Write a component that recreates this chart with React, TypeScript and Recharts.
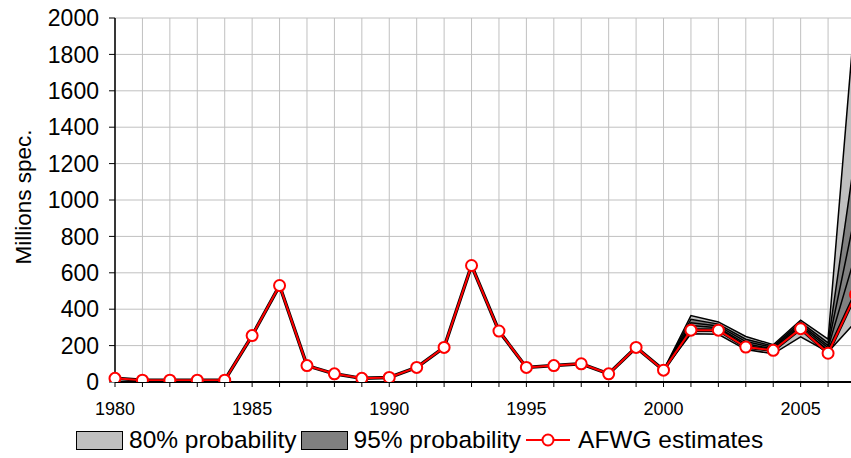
import React from 'react';
import { ComposedChart, Line, Area, XAxis, YAxis, CartesianGrid, Legend } from 'recharts';

const years = [
  1980, 1981, 1982, 1983, 1984, 1985, 1986, 1987, 1988, 1989,
  1990, 1991, 1992, 1993, 1994, 1995, 1996, 1997, 1998, 1999,
  2000, 2001, 2002, 2003, 2004, 2005, 2006, 2007,
];

// AFWG stock estimates, millions of specimens
const afwg = [
  20, 10, 10, 10, 10, 255, 530, 90, 45, 20,
  25, 80, 190, 640, 280, 80, 90, 100, 45, 190,
  65, 285, 285, 192, 174, 293, 158, 480,
];

// probability fan, 2000 onwards
const bandYears = [2000, 2001, 2002, 2003, 2004, 2005, 2006, 2007];
const lower95 = [65, 265, 262, 178, 155, 248, 165, 330];
const lower80 = [65, 290, 288, 198, 175, 295, 175, 500];
const lowerMid = [65, 310, 298, 210, 182, 308, 188, 700];
const upperMid = [65, 325, 308, 222, 190, 318, 200, 930];
const upper80 = [65, 345, 318, 235, 197, 328, 215, 1260];
const upper95 = [65, 365, 330, 250, 205, 340, 235, 2050];

const yTicks = [0, 200, 400, 600, 800, 1000, 1200, 1400, 1600, 1800, 2000];

const FONT = '"Liberation Sans", Arial, sans-serif';
const LIGHT = '#c0c0c0';
const DARK = '#808080';

const data = years.map((year, i) => {
  const k = bandYears.indexOf(year);
  const pick = (arr: number[]) => (k >= 0 ? arr[k] : null);
  return {
    year,
    afwg: afwg[i],
    lower95: pick(lower95),
    lower80: pick(lower80),
    lowerMid: pick(lowerMid),
    upperMid: pick(upperMid),
    upper80: pick(upper80),
    upper95: pick(upper95),
  };
});

type Row = (typeof data)[number];
const range = (lo: keyof Row, hi: keyof Row) => (d: Row) =>
  d[lo] == null ? null : [d[lo] as number, d[hi] as number];

function YLabel() {
  return (
    <text
      x={31}
      y={197}
      transform="rotate(-90 31 197)"
      textAnchor="middle"
      fontFamily={FONT}
      fontSize={22.5}
      fill="#000"
    >
      Millions spec.
    </text>
  );
}

function Swatch({ color }: { color: string }) {
  return (
    <span
      style={{
        display: 'inline-block',
        width: 45,
        height: 17,
        background: color,
        border: '1px solid #000',
        marginRight: 6,
      }}
    />
  );
}

function ChartLegend() {
  return (
    <div
      style={{
        display: 'flex',
        alignItems: 'center',
        height: 40,
        paddingTop: 4,
        boxSizing: 'border-box',
        paddingLeft: 76,
        fontFamily: FONT,
        fontSize: 24.5,
        color: '#000',
        whiteSpace: 'nowrap',
      }}
    >
      <Swatch color={LIGHT} />
      <span style={{ marginRight: 4 }}>80% probability</span>
      <Swatch color={DARK} />
      <span style={{ marginRight: 5 }}>95% probability</span>
      <svg width={44} height={20} style={{ marginRight: 8 }}>
        <line x1={0} y1={10} x2={44} y2={10} stroke="#ff0000" strokeWidth={2} />
        <circle cx={22} cy={10} r={5.5} fill="#fff" stroke="#ff0000" strokeWidth={2} />
      </svg>
      <span>AFWG estimates</span>
    </div>
  );
}

export default function App() {
  return (
    <div style={{ position: 'fixed', left: 0, top: 0, width: 851, height: 458, overflow: 'hidden', background: '#fff' }}>
      <ComposedChart width={870} height={458} data={data} margin={{ top: 18, right: 14.5, left: 0, bottom: 0 }}>
        <CartesianGrid stroke={LIGHT} strokeWidth={1} />
        <XAxis
          dataKey="year"
          type="number"
          domain={[1980, 2007]}
          ticks={years}
          interval={0}
          height={36}
          tickSize={5}
          tickMargin={15}
          tickFormatter={(v: number) => (v % 5 === 0 ? String(v) : '')}
          tick={{ fontFamily: FONT, fontSize: 18, fill: '#000' }}
          axisLine={{ stroke: '#000', strokeWidth: 2 }}
          tickLine={{ stroke: '#000' }}
        />
        <YAxis
          type="number"
          domain={[0, 2000]}
          allowDataOverflow
          ticks={yTicks}
          interval={0}
          width={115}
          tickSize={6}
          tickMargin={10}
          tick={{ fontFamily: FONT, fontSize: 23, fill: '#000' }}
          axisLine={{ stroke: '#000', strokeWidth: 1.5 }}
          tickLine={{ stroke: '#000' }}
          label={<YLabel />}
        />
        <Legend verticalAlign="bottom" content={<ChartLegend />} wrapperStyle={{ left: 0, width: 851, height: 40 }} />

        <Area type="linear" dataKey={range('lower95', 'lower80')} fill={LIGHT} fillOpacity={1} stroke="none" isAnimationActive={false} legendType="none" />
        <Area type="linear" dataKey={range('lower80', 'upper80')} fill={DARK} fillOpacity={1} stroke="none" isAnimationActive={false} legendType="none" />
        <Area type="linear" dataKey={range('upper80', 'upper95')} fill={LIGHT} fillOpacity={1} stroke="none" isAnimationActive={false} legendType="none" />

        {['lower95', 'lower80', 'lowerMid', 'upperMid', 'upper80', 'upper95'].map((key) => (
          <Line key={key} type="linear" dataKey={key} stroke="#000" strokeWidth={1.5} dot={false} isAnimationActive={false} legendType="none" />
        ))}

        <Line type="linear" dataKey="afwg" stroke="#000" strokeWidth={3.5} dot={false} isAnimationActive={false} legendType="none" />
        <Line
          type="linear"
          dataKey="afwg"
          stroke="#ff0000"
          strokeWidth={2}
          dot={{ r: 5.5, fill: '#fff', stroke: '#ff0000', strokeWidth: 2 }}
          isAnimationActive={false}
        />
      </ComposedChart>
    </div>
  );
}
